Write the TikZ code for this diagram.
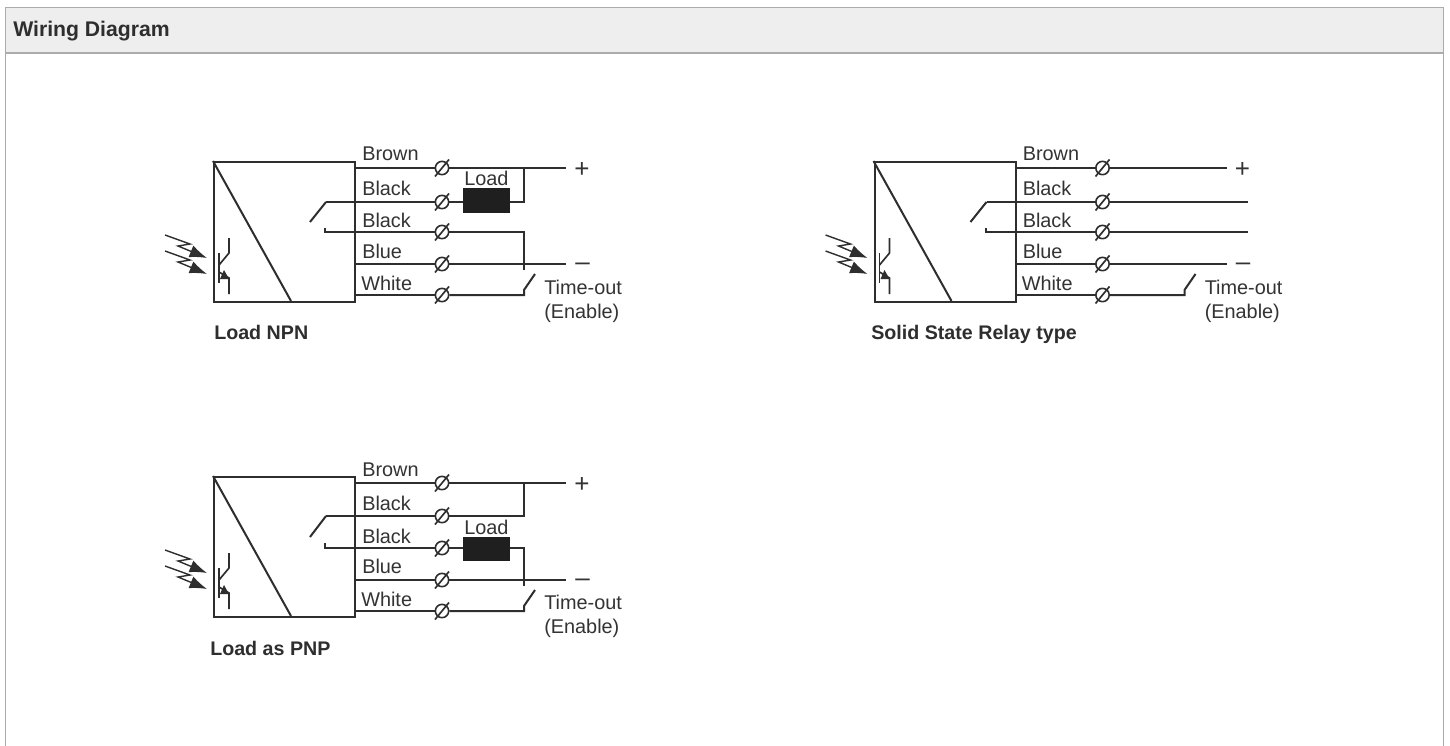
\documentclass[tikz,border=0pt]{standalone}
\usepackage{fontspec}
\setmainfont{Liberation Sans}
\usetikzlibrary{arrows.meta,calc}
\definecolor{wire}{HTML}{2E2E2E}
\definecolor{ink}{HTML}{333333}
\definecolor{rulegray}{HTML}{ABABAB}
\definecolor{headfill}{HTML}{EEEEEE}
\tikzset{
  x=0.75pt,y=-0.75pt,
  wireline/.style={draw=wire,line width=1.5pt,line join=miter},
  thinwire/.style={draw=wire,line width=1.25pt},
  termring/.style={circle,draw=wire,line width=1.2pt,inner sep=0pt,minimum size=10pt,fill=white},
  wirelabel/.style={anchor=base west,inner sep=0pt,font=\fontsize{14.9pt}{17pt}\selectfont,text=ink},
  signlabel/.style={anchor=base,inner sep=0pt,font=\fontsize{19.5pt}{21pt}\selectfont,text=ink},
  caption/.style={anchor=base west,inner sep=0pt,font=\fontsize{14.75pt}{17pt}\selectfont\bfseries,text=wire},
  loadbox/.style={draw=none,fill=black!88,inner sep=0pt,minimum width=35.5pt,minimum height=18.5pt},
  photon/.style={draw=wire,line width=1.05pt,-{Latex[length=13pt,width=9.5pt]}},
}
% terminal: #1 node name, #2 x, #3 y
\newcommand{\termnode}[3]{%
  \node[termring] (#1) at (#2,#3) {};
  \draw[thinwire] ($(#1.center)+(-7,8.5)$) -- ($(#1.center)+(7,-8.5)$);
}
% common sensor body: #1 prefix, #2..#5 rows of terminals 2..5, #6 label nudge
\newcommand{\sensorbody}[6]{%
  \node[draw=wire,line width=1.5pt,inner sep=0pt,minimum width=105.75pt,minimum height=105pt,anchor=north west] (#1box) at (213,161) {};
  \coordinate (#1diag) at (291,301);
  \draw[wireline] (#1box.north west) -- (#1diag);
  % transistor
  \coordinate (#1tb1) at (219,253); \coordinate (#1tb2) at (219,283);
  \draw[thinwire] (#1tb1) -- (#1tb2);
  \draw[thinwire] (219,265) -- (229,253) -- (229,238);
  \draw[thinwire] (219,272) -- (229,278) -- (229,294);
  \fill[wire] (229,279) -- (220,279) -- (224,270) -- cycle;
  % light
  \draw[photon] (165,235) -- (190,244) -- (178,246) -- (207,258);
  \draw[photon] (165,251) -- (190,260) -- (178,262) -- (207,274);
  % contact stubs
  \coordinate (#1c1) at (310,222); \coordinate (#1c2) at (326,#2);
  \coordinate (#1c3) at (325,228); \coordinate (#1c4) at (325,#3);
  \draw[wireline] (#1c1) -- (#1c2);
  % terminals
  \termnode{#1t1}{442}{168}
  \termnode{#1t2}{442}{#2}
  \termnode{#1t3}{442}{#3}
  \termnode{#1t4}{442}{#4}
  \termnode{#1t5}{442}{#5}
  % wires from housing to terminals
  \draw[wireline] (354,168) -- (#1t1);
  \draw[wireline] (#1c2) -- (#1t2);
  \draw[wireline] (#1c3) -- (#1c4) -- (#1t3);
  \draw[wireline] (354,#4) -- (#1t4);
  \draw[wireline] (354,#5) -- (#1t5);
  % labels
  \node[wirelabel] (#1lb1) at (362,160.5+#6) {Brown};
  \node[wirelabel] (#1lb2) at (362,195+#6) {Black};
  \node[wirelabel] (#1lb3) at (362,227.5+#6) {Black};
  \node[wirelabel] (#1lb4) at (362,258+#6) {Blue};
  \node[wirelabel] (#1lb5) at (361,290.5+#6) {White};
  \node[signlabel] (#1plus) at (582,177) {+};
  \node[signlabel] (#1minus) at (582.5,#4+6) {–};
  \node[wirelabel] (#1to) at (544,294+#6) {Time-out};
  \node[wirelabel] (#1en) at (544,318+#6) {(Enable)};
  % time-out switch
  \coordinate (#1sw1) at (524,#5); \coordinate (#1sw2) at (524,#5-5); \coordinate (#1sw3) at (535,#5-21);
  \draw[wireline] (#1t5) -- (#1sw1) -- (#1sw2) -- (#1sw3);
  % line ends
  \coordinate (#1pe) at (566,168); \coordinate (#1me) at (566,#4);
  \draw[wireline] (#1t1) -- (#1pe);
  \draw[wireline] (#1t4) -- (#1me);
}
\begin{document}
\begin{tikzpicture}
\useasboundingbox (0,0) rectangle (1450,746);
\fill[white] (0,0) rectangle (1450,746);
\node[draw=none,fill=headfill,inner sep=0pt,minimum width=1079pt,minimum height=33.75pt,anchor=north west] (head) at (5.5,8) {};
\draw[rulegray,line width=1pt] (5.5,746) -- (5.5,7.5) -- (1443.5,7.5) -- (1443.5,746);
\draw[rulegray,line width=1.4pt] (5.5,53) -- (1443.5,53);
\node[anchor=base west,inner sep=0pt,font=\fontsize{15.9pt}{18pt}\selectfont\bfseries,text=wire] (title) at (13,36.5) {Wiring Diagram};

% Load NPN
\begin{scope}
\sensorbody{a}{202}{232}{264}{295}{0}
\node[loadbox] (aload) at (486.5,200.5) {};
\node[wirelabel] (aloadt) at (464,185) {Load};
\coordinate (aj1) at (524,168); \coordinate (aj2) at (524,202);
\coordinate (aj3) at (524,232); \coordinate (aj4) at (524,270);
\draw[wireline] (at2) -- (aload.west |- at2);
\draw[wireline] (aload.east |- aj2) -- (aj2) -- (aj1);
\draw[wireline] (at3) -- (aj3) -- (aj4);
\node[caption] (acap) at (214,339) {Load NPN};
\end{scope}

% Solid State Relay type
\begin{scope}[xshift=495.375pt]
\sensorbody{b}{202}{232}{264}{295}{0}
\coordinate (be2) at (587.5,202); \coordinate (be3) at (587.5,232);
\draw[wireline] (bt2) -- (be2);
\draw[wireline] (bt3) -- (be3);
\node[caption] (bcap) at (210.5,339) {Solid State Relay type};
\end{scope}

% Load as PNP
\begin{scope}[shift={(0,315)}]
\sensorbody{c}{201}{233}{265}{296}{0.5}
\node[loadbox] (cload) at (486.5,234) {};
\node[wirelabel] (cloadt) at (464,219) {Load};
\coordinate (cj1) at (524,168); \coordinate (cj2) at (524,201);
\coordinate (cj3) at (524,233); \coordinate (cj4) at (524,271);
\draw[wireline] (ct2) -- (cj2) -- (cj1);
\draw[wireline] (ct3) -- (cload.west |- ct3);
\draw[wireline] (cload.east |- cj3) -- (cj3) -- (cj4);
\node[caption] (ccap) at (210,340) {Load as PNP};
\end{scope}
\end{tikzpicture}
\end{document}
